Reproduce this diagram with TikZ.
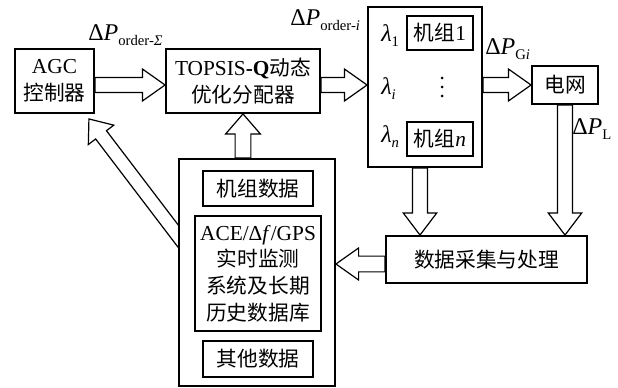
\documentclass[tikz,border=0pt]{standalone}
\usepackage{fontspec}
\setmainfont{Liberation Serif}
\newfontfamily\cjk[Scale=0.97]{Noto Sans CJK SC}
\usetikzlibrary{calc}
\pgfdeclarelayer{bg}
\pgfsetlayers{bg,main}
% #1 tail, #2 tip, #3 shaft half width, #4 head half width, #5 head length
\newcommand\blockarrow[5]{%
  \coordinate (hb) at ($(#2)!#5!(#1)$);
  \draw[arrline] ($(#1)!#3!90:(#2)$) -- ($(hb)!#3!90:(#2)$) -- ($(hb)!#4!90:(#2)$)
     -- (#2) -- ($(hb)!#4!-90:(#2)$) -- ($(hb)!#3!-90:(#2)$) -- ($(#1)!#3!-90:(#2)$) -- cycle;
}
\newcommand\sbs[1]{\raisebox{-3.5pt}{\fontsize{11pt}{11pt}\selectfont #1}}
\newcommand\bigsym[1]{{\fontsize{18pt}{18pt}\selectfont #1}}
\begin{document}
\begin{tikzpicture}[x=0.75pt,y=-0.75pt,
  every node/.style={font=\fontsize{16pt}{20pt}\selectfont},
  box/.style={draw,line width=1.4pt,fill=white,inner sep=0pt,align=center},
  lab/.style={inner sep=0pt},
  arrline/.style={draw,line width=0.9pt,fill=white,line join=miter}]
\useasboundingbox (0,0) rectangle (618,388);

% main boxes
\node[box,minimum width=59.25pt,minimum height=48pt] (agc) at (54.5,81) {AGC\\{\cjk 控制器}};
\node[box,minimum width=115.5pt,minimum height=48pt] (top) at (243,81) {TOPSIS\textbf{-Q}{\cjk 动态}\\{\cjk 优化分配器}};
\node[box,minimum width=85.5pt,minimum height=120pt] (units) at (425,87) {};
\node[box,minimum width=49.5pt,minimum height=25.5pt] (u1) at (440,33) {{\cjk 机组}1};
\node[box,minimum width=49.5pt,minimum height=25.5pt] (un) at (440,139) {{\cjk 机组}\textit{n}};
\node[box,minimum width=49.5pt,minimum height=28.5pt] (grid) at (565,85) {{\cjk 电网}};
\node[box,minimum width=150.75pt,minimum height=35.25pt] (proc) at (486.5,259.5) {{\cjk 数据采集与处理}};
\node[box,minimum width=117pt,minimum height=170.25pt] (data) at (257,272.5) {};
\node[box,minimum width=82.5pt,minimum height=26.25pt] (d1) at (258,188.5) {{\cjk 机组数据}};
\node[box,minimum width=94.5pt,minimum height=86.25pt] (d2) at (258,273.5) {ACE/Δ\textit{f}/GPS\\{\cjk 实时监测}\\{\cjk 系统及长期}\\{\cjk 历史数据库}};
\node[box,minimum width=82.5pt,minimum height=27pt] (d3) at (258,359) {{\cjk 其他数据}};

% lambda labels and dots
\node[lab,anchor=base west] (lam1) at (381,42) {\bigsym{\textit{λ}}\sbs{1}};
\node[lab,anchor=base west] (lami) at (381,95) {\bigsym{\textit{λ}}\sbs{\textit{i}}};
\node[lab,anchor=base west] (lamn) at (381,143) {\bigsym{\textit{λ}}\sbs{\textit{n}}};
\fill (442,78) circle[radius=1.5] (442,87) circle[radius=1.5] (442,96) circle[radius=1.5];

% signal labels
\node[lab,anchor=base west] (lsig) at (88,41) {\bigsym{Δ\textit{P}}\sbs{order-\textit{Σ}}};
\node[lab,anchor=base west] (lord) at (290,26) {\bigsym{Δ\textit{P}}\sbs{order-\textit{i}}};
\node[lab,anchor=base west] (lgi) at (485,55) {\bigsym{Δ\textit{P}}\sbs{G\textit{i}}};
\node[lab,anchor=base west] (ll) at (572,135) {\bigsym{Δ\textit{P}}\sbs{L}};

% connector coordinates
\coordinate (ay) at (0,85);
\coordinate (a1s) at (agc.east |- ay);
\coordinate (a1e) at (top.west |- ay);
\coordinate (a2s) at (top.east |- ay);
\coordinate (a2e) at (units.west |- ay);
\coordinate (a3s) at (units.east |- ay);
\coordinate (a3e) at (grid.west |- ay);
\coordinate (a4s) at (grid.south);
\coordinate (a4e) at (grid.south |- proc.north);
\coordinate (a5s) at ($(units.south)+(-5,0)$);
\coordinate (a5e) at (a5s |- proc.north);
\coordinate (py) at (0,264);
\coordinate (a6s) at (proc.west |- py);
\coordinate (a6e) at (data.east |- py);
\coordinate (a7s) at (top.south |- data.north);
\coordinate (a7e) at (top.south);
\coordinate (a8e) at ($(agc.south east)+(-6,5)$);
\coordinate (a8t) at (data.west |- 0,236);
\coordinate (a8s) at ($(a8e)!1.08!(a8t)$);

\begin{pgfonlayer}{bg}
\blockarrow{a1s}{a1e}{5.6pt}{12pt}{17pt}
\blockarrow{a2s}{a2e}{5.6pt}{12pt}{17pt}
\blockarrow{a3s}{a3e}{5.6pt}{12pt}{17pt}
\blockarrow{a4s}{a4e}{5.6pt}{12.5pt}{16.5pt}
\blockarrow{a5s}{a5e}{5.6pt}{12.5pt}{16.5pt}
\blockarrow{a6s}{a6e}{5.9pt}{12pt}{17pt}
\blockarrow{a7s}{a7e}{5.9pt}{13pt}{15pt}
\blockarrow{a8s}{a8e}{5.1pt}{12pt}{15pt}
\end{pgfonlayer}
\end{tikzpicture}
\end{document}
